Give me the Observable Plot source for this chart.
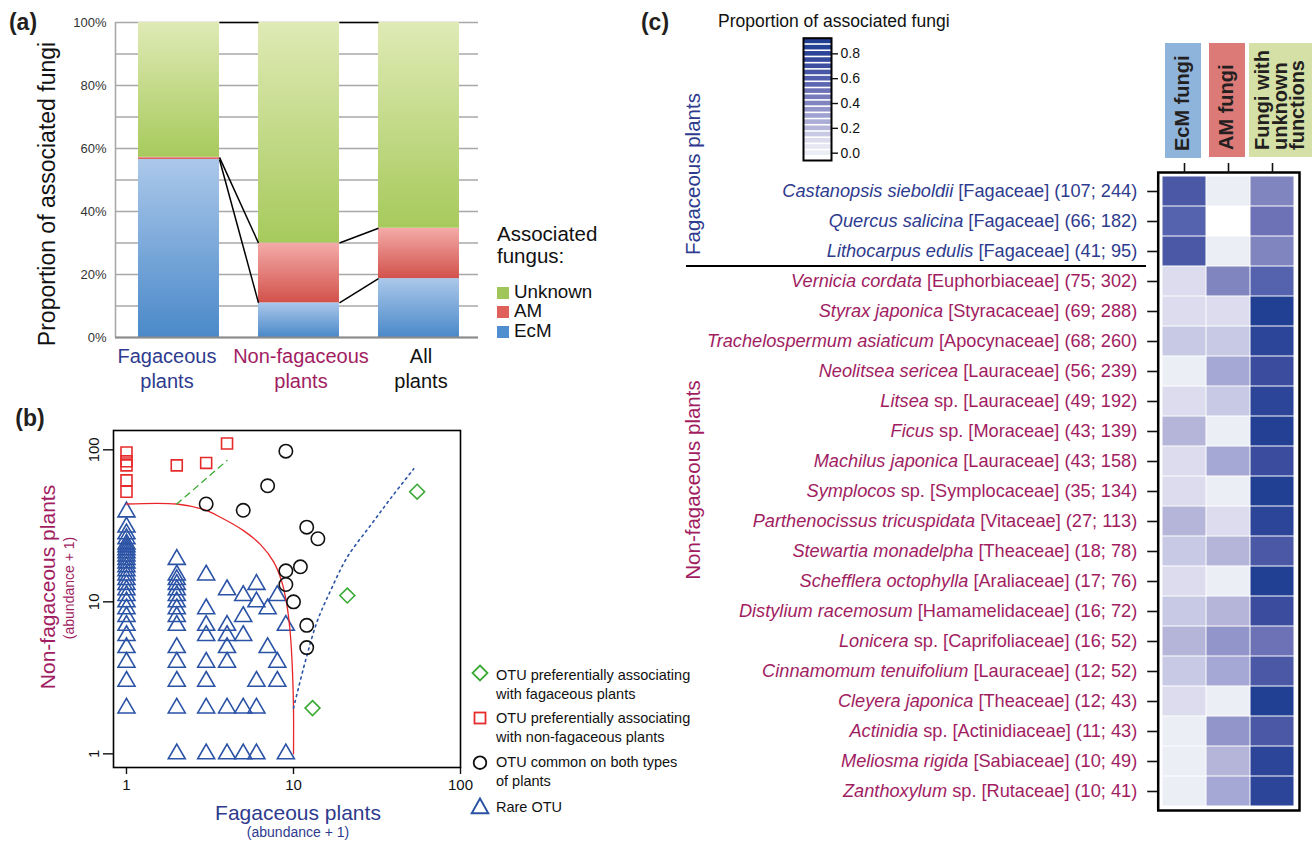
<!DOCTYPE html>
<html>
<head>
<meta charset="utf-8">
<script src="https://cdn.jsdelivr.net/npm/d3@7"></script>
<script src="https://cdn.jsdelivr.net/npm/@observablehq/plot@0.6"></script>
<style>
html,body{margin:0;padding:0;background:#fff;}
#page{position:relative;width:1316px;height:843px;overflow:hidden;font-family:"Liberation Sans",Arial,Helvetica,sans-serif;color:#111;}
.a{position:absolute;white-space:nowrap;line-height:1;}
.c{position:absolute;white-space:nowrap;line-height:1;transform:translate(-50%,-50%);}
.v{position:absolute;white-space:nowrap;line-height:1;transform:translate(-50%,-50%) rotate(-90deg);}
.panel{font-weight:bold;font-size:23px;color:#231f20;}
.hdr{position:absolute;writing-mode:vertical-rl;transform:rotate(180deg);font-weight:bold;font-size:20px;line-height:17.5px;display:flex;align-items:center;justify-content:flex-start;padding-top:7px;box-sizing:border-box;color:#231f20;white-space:nowrap;}
.sw{display:inline-block;width:12px;height:12px;margin-right:5px;vertical-align:-1px;}
.plotbox{position:absolute;}
</style>
</head>
<body>
<svg width="0" height="0" style="position:absolute">
  <defs>
    <linearGradient id="gEcM" x1="0" y1="0" x2="0" y2="1"><stop offset="0" stop-color="#abc8ea"/><stop offset="1" stop-color="#4a89c9"/></linearGradient>
    <linearGradient id="gAM" x1="0" y1="0" x2="0" y2="1"><stop offset="0" stop-color="#f4aba9"/><stop offset="1" stop-color="#d2524b"/></linearGradient>
    <linearGradient id="gUnk" x1="0" y1="0" x2="0" y2="1"><stop offset="0" stop-color="#dfeab5"/><stop offset="1" stop-color="#a7ca5c"/></linearGradient>
  </defs>
</svg>
<div id="page">
  <!-- panel letters -->
  <div class="c panel" style="left:23px;top:22px">(a)</div>
  <div class="c panel" style="left:30px;top:418px">(b)</div>
  <div class="c panel" style="left:655px;top:22px">(c)</div>

  <!-- panel a texts -->
  <div class="v" style="left:47px;top:194px;font-size:23px">Proportion of associated fungi</div>
  <div class="a" style="left:497px;top:223px;font-size:20.5px;line-height:22px">Associated<br>fungus:</div>
  <div class="a" style="left:497px;top:282px;font-size:18.8px;line-height:19.3px">
    <div><span class="sw" style="background:#a0c65a"></span>Unknown</div>
    <div><span class="sw" style="background:#e0615b"></span>AM</div>
    <div><span class="sw" style="background:#4f8fd0"></span>EcM</div>
  </div>

  <!-- panel b texts -->
  <div class="v" style="left:47px;top:587px;font-size:21px;color:#a11d62">Non-fagaceous plants</div>
  <div class="v" style="left:69px;top:588px;font-size:14px;color:#a11d62">(abundance + 1)</div>
  <div class="c" style="left:298px;top:812px;font-size:21px;color:#2e3b8e">Fagaceous plants</div>
  <div class="c" style="left:298px;top:832px;font-size:14px;color:#2e3b8e">(abundance + 1)</div>
  <div class="a" style="left:496px;top:666px;font-size:14.5px;line-height:18.5px">OTU preferentially associating<br>with fagaceous plants</div>
  <div class="a" style="left:496px;top:709px;font-size:14.5px;line-height:18.5px">OTU preferentially associating<br>with non-fagaceous plants</div>
  <div class="a" style="left:496px;top:753px;font-size:14.5px;line-height:18.5px">OTU common on both types<br>of plants</div>
  <div class="a" style="left:496px;top:798px;font-size:14.5px;line-height:18.5px">Rare OTU</div>
  <svg class="a" style="left:460px;top:650px" width="40" height="180">
    <polygon points="20,15.5 27.5,23 20,30.5 12.5,23" fill="none" stroke="#3aaa35" stroke-width="1.8"/>
    <rect x="14.5" y="62.5" width="11" height="11" fill="none" stroke="#e62b2b" stroke-width="1.8"/>
    <circle cx="20" cy="112.7" r="6.3" fill="none" stroke="#111" stroke-width="1.8"/>
    <polygon points="20,148.5 28.3,163.3 11.7,163.3" fill="none" stroke="#2a52a5" stroke-width="1.9"/>
  </svg>

  <!-- panel c texts -->
  <div class="a" style="left:718px;top:13px;font-size:17.5px">Proportion of associated fungi</div>
  <div class="v" style="left:693px;top:174px;font-size:20.5px;color:#2e3b8e">Fagaceous plants</div>
  <div class="v" style="left:693px;top:480px;font-size:20.5px;color:#a11d62">Non-fagaceous plants</div>
  <div class="a" style="left:686px;top:265px;width:460px;height:2px;background:#000"></div>
  <div class="hdr" style="left:1165px;top:43px;width:36px;height:115px;background:#8fb4dc"><span>EcM fungi</span></div>
  <div class="hdr" style="left:1209px;top:43px;width:36px;height:114px;background:#db7a76"><span>AM fungi</span></div>
  <div class="hdr" style="left:1249px;top:43px;width:63px;height:114px;background:#d5e0a6"><span>Fungi with<br>unknown<br>functions</span></div>
</div>
<script>
// ================= DATA =================
// Panel (a): stacked proportions (%)
const plantGroups = ["Fagaceous plants", "Non-fagaceous plants", "All plants"];
const groupLabelLines = ["Fagaceous\nplants", "Non-fagaceous\nplants", "All\nplants"];
const fungusTypes = ["EcM", "AM", "Unknown"];
const ecmPercent = [56.5, 11.0, 18.7];
const amPercent = [0.7, 19.0, 16.0];
const unknownPercent = [42.8, 70.0, 65.3];
const percentTicks = [0, 10, 20, 30, 40, 50, 60, 70, 80, 90, 100];

// Panel (b): OTU abundances (fagaceous + 1, non-fagaceous + 1)
const rareOTU = [
  [1,2],[1,3],[1,4],[1,5],[1,6],[1,7],[1,8],[1,9],[1,10],[1,11],[1,12],[1,13],[1,14],[1,15],[1,16],[1,17],[1,18],[1,19],[1,20],[1,21],[1,22],[1,23],[1,24],[1,26],[1,28],[1,31],[1,39],
  [2,1],[2,2],[2,3],[2,4],[2,5],[2,7],[2,8],[2,9],[2,10],[2,11],[2,12],[2,13],[2,14],[2,15],[2,19],
  [3,1],[3,2],[3,3],[3,4],[3,6],[3,7],[3,9],[3,15],
  [4,1],[4,2],[4,4],[4,5],[4,6],[4,7],[4,12],
  [5,1],[5,2],[5,6],[5,8],[5,11],
  [6,1],[6,2],[6,3],[6,10],[6,13],
  [7,5],[7,9],
  [8,3],[8,4],[8,11],
  [9,1],[9,7]
];
const commonOTU = [[3,44],[5,40],[7,58],[9,98],[12,31],[14,26],[11,17],[9,16],[9,13],[10,10],[12,7],[12,5]];
const nonFagaceousOTU = [[1,96],[1,84],[1,79],[1,63],[1,53],[2,79],[3,82],[4,110]];
const fagaceousOTU = [[55,53],[21,11],[13,2]];
const rareBoundary = [[1,44],[2,44],[2.89,40.5],[3.65,36],[5.02,29.4],[6.35,23.8],[7.59,18.4],[8.47,13.8],[9.14,9.45],[9.59,6],[9.86,3.5],[10,2],[10,1]];
const nonFagBoundary = [[2,44],[4,85]];
const fagBoundary = [[10,2],[11.8,4.1],[13.9,7.5],[16.7,11.9],[21,19.7],[28.9,31.8],[38.1,47.8],[52.5,75]];
const abundanceTicks = [1, 10, 100];

// Panel (c): heatmap
const speciesNames = ["Castanopsis sieboldii","Quercus salicina","Lithocarpus edulis","Vernicia cordata","Styrax japonica","Trachelospermum asiaticum","Neolitsea sericea","Litsea","Ficus","Machilus japonica","Symplocos","Parthenocissus tricuspidata","Stewartia monadelpha","Schefflera octophylla","Distylium racemosum","Lonicera","Cinnamomum tenuifolium","Cleyera japonica","Actinidia","Meliosma rigida","Zanthoxylum"];
const speciesInfo = ["[Fagaceae] (107; 244)","[Fagaceae] (66; 182)","[Fagaceae] (41; 95)","[Euphorbiaceae] (75; 302)","[Styracaceae] (69; 288)","[Apocynaceae] (68; 260)","[Lauraceae] (56; 239)","sp. [Lauraceae] (49; 192)","sp. [Moraceae] (43; 139)","[Lauraceae] (43; 158)","sp. [Symplocaceae] (35; 134)","[Vitaceae] (27; 113)","[Theaceae] (18; 78)","[Araliaceae] (17; 76)","[Hamamelidaceae] (16; 72)","sp. [Caprifoliaceae] (16; 52)","[Lauraceae] (12; 52)","[Theaceae] (12; 43)","sp. [Actinidiaceae] (11; 43)","[Sabiaceae] (10; 49)","sp. [Rutaceae] (10; 41)"];
const fagaceousCount = 3;
const fungalColumns = ["EcM fungi", "AM fungi", "Fungi with unknown functions"];
const ecmProportion = [0.64,0.57,0.64,0.10,0.10,0.15,0.02,0.10,0.20,0.10,0.10,0.20,0.15,0.10,0.15,0.20,0.15,0.10,0.02,0.02,0.02];
const amProportion  = [0.02,0.00,0.02,0.40,0.10,0.15,0.28,0.15,0.02,0.28,0.02,0.10,0.20,0.02,0.20,0.35,0.28,0.02,0.35,0.20,0.28];
const unknownProportion = [0.40,0.50,0.40,0.57,0.88,0.78,0.72,0.78,0.86,0.72,0.88,0.78,0.64,0.88,0.72,0.50,0.64,0.88,0.64,0.78,0.78];
const colorStops = [0, 0.02, 0.10, 0.15, 0.20, 0.28, 0.35, 0.40, 0.50, 0.57, 0.64, 0.72, 0.78, 0.88, 0.93];
const colorRange = ["#ffffff","#eceef5","#dcdcee","#c8c9e4","#b5b5da","#a5a8d4","#9295c9","#8085c0","#6d71b5","#5562ae","#4a58a6","#3b4c9e","#2d4599","#213f93","#1e3c90"];
const legendSteps = [0,0.05,0.1,0.15,0.2,0.25,0.3,0.35,0.4,0.45,0.5,0.55,0.6,0.65,0.7,0.75,0.8,0.85,0.9];
const legendTicks = [0, 0.2, 0.4, 0.6, 0.8];

// ================= RENDER =================
const page = document.getElementById("page");
const FONT = '"Liberation Sans", Arial, Helvetica, sans-serif';
const STYLE = `background:transparent;overflow:visible;max-width:none;font-family:${FONT};color:#111;`;
const BLUE_LABEL = "#2e3b8e", PINK_LABEL = "#a11d62";
function place(svg, left, top, w) {
  const d = document.createElement("div");
  d.className = "plotbox";
  d.style.left = left + "px"; d.style.top = top + "px"; d.style.width = w + "px";
  d.appendChild(svg); page.appendChild(d);
}

// ---- Panel (a)
const HW = 0.3375;
const seriesValues = [ecmPercent, amPercent, unknownPercent];
const gradientFill = {EcM: "url(#gEcM)", AM: "url(#gAM)", Unknown: "url(#gUnk)"};
const segments = [];
plantGroups.forEach((g, i) => {
  let c = 0;
  fungusTypes.forEach((t, k) => { const v = seriesValues[k][i]; segments.push({i, type: t, y1: c, y2: c + v}); c += v; });
});
const seriesTops = fungusTypes.map((t, k) => plantGroups.map((g, i) => seriesValues.slice(0, k + 1).reduce((s, a) => s + a[i], 0)));
const seriesLinks = [];
seriesTops.forEach(arr => { for (let i = 0; i < arr.length - 1; i++) seriesLinks.push({x1: i + HW, x2: i + 1 - HW, y1: arr[i], y2: arr[i + 1]}); });
const groupLabelFill = [BLUE_LABEL, PINK_LABEL, "#111"];
const groupLabelDx = [-12, 2, 2];

const plotA = Plot.plot({
  width: 480, height: 400, marginLeft: 115, marginRight: 2, marginTop: 22, marginBottom: 63,
  style: STYLE,
  x: {domain: [-0.529, 2.496], axis: null},
  y: {domain: [0, 100]},
  marks: [
    Plot.ruleY(percentTicks, {stroke: "#a8a8a8", strokeWidth: 1.6}),
    Plot.ruleX([-0.529], {stroke: "#a8a8a8", strokeWidth: 1.6}),
    Plot.axisY({ticks: percentTicks.filter(d => d % 20 === 0), tickSize: 0, tickPadding: 9, tickFormat: d => d + "%", fontSize: 13, fill: "#333", label: null}),
    ...fungusTypes.map(t => Plot.rect(segments.filter(d => d.type === t), {x1: d => d.i - HW, x2: d => d.i + HW, y1: "y1", y2: "y2", fill: gradientFill[t]})),
    Plot.ruleY([0], {stroke: "#8c8c8c", strokeWidth: 2}),
    Plot.link(seriesLinks, {x1: "x1", x2: "x2", y1: "y1", y2: "y2", stroke: "#000", strokeWidth: 1.5}),
    ...plantGroups.map((g, i) => Plot.text([i], {x: d => d, y: 0, text: () => groupLabelLines[i], fill: groupLabelFill[i], fontSize: 20, lineAnchor: "top", lineHeight: 1.25, dy: 8, dx: groupLabelDx[i]}))
  ]
});
place(plotA, 0, 0, 480);

// ---- Panel (b)
const px = d => d[0], py = d => d[1];
const plotB = Plot.plot({
  width: 470, height: 443, marginLeft: 113, marginRight: 10, marginTop: 30, marginBottom: 76,
  style: STYLE,
  x: {type: "log", domain: [0.836, 100]},
  y: {type: "log", domain: [0.813, 134]},
  marks: [
    Plot.axisX({ticks: abundanceTicks, tickSize: 7, tickPadding: 5, tickFormat: d => String(d), fontSize: 15, label: null, strokeWidth: 1.4}),
    Plot.axisY({ticks: abundanceTicks, tickSize: 10, tickFormat: () => "", label: null, strokeWidth: 1.4}),
    Plot.text(abundanceTicks, {y: d => d, text: d => String(d), frameAnchor: "left", rotate: -90, dx: -14.5, textAnchor: "middle", lineAnchor: "bottom", fontSize: 15}),
    Plot.dot(rareOTU, {x: px, y: py, symbol: "triangle", r: 6.3, stroke: "#2a52a5", strokeWidth: 1.6, fill: "none"}),
    Plot.line(rareBoundary, {x: px, y: py, curve: "catmull-rom", stroke: "#e8262a", strokeWidth: 1.3}),
    Plot.line(nonFagBoundary, {x: px, y: py, stroke: "#3aaa35", strokeWidth: 1.3, strokeDasharray: "6,5"}),
    Plot.line(fagBoundary, {x: px, y: py, curve: "catmull-rom", stroke: "#2a52a5", strokeWidth: 1.6, strokeDasharray: "2,4"}),
    Plot.dot(commonOTU, {x: px, y: py, r: 6.7, stroke: "#111", strokeWidth: 1.6, fill: "none"}),
    Plot.dot(nonFagaceousOTU, {x: px, y: py, symbol: "square", r: 6.2, stroke: "#e62b2b", strokeWidth: 1.6, fill: "none"}),
    Plot.dot(fagaceousOTU, {x: px, y: py, symbol: "diamond2", r: 6.7, stroke: "#3aaa35", strokeWidth: 1.6, fill: "none"}),
    Plot.frame({stroke: "#000", strokeWidth: 1.6})
  ]
});
place(plotB, 0, 400, 470);

// ---- Panel (c) heatmap
const rowLabels = speciesNames.map((n, i) => n + " " + speciesInfo[i]);
const proportionColumns = [ecmProportion, amProportion, unknownProportion];
const cells = [];
rowLabels.forEach((r, i) => proportionColumns.forEach((arr, k) => cells.push({row: r, col: fungalColumns[k], value: arr[i]})));
const colorScale = {type: "linear", domain: colorStops, range: colorRange, interpolate: "rgb"};

const plotC = Plot.plot({
  width: 676, height: 843, marginLeft: 521.7, marginRight: 21, marginTop: 176, marginBottom: 37,
  style: STYLE,
  x: {domain: fungalColumns, padding: 0, label: null},
  y: {domain: rowLabels, padding: 0, label: null},
  color: colorScale,
  marks: [
    Plot.cell(cells, {x: "col", y: "row", fill: "value", inset: 0.5}),
    Plot.frame({inset: -4, stroke: "#000", strokeWidth: 2.5}),
    Plot.axisY({tickSize: 10, tickFormat: () => "", dx: -4.5, strokeWidth: 1.6, label: null}),
    Plot.axisX({anchor: "top", tickSize: 10, tickFormat: () => "", dy: -4, strokeWidth: 1.6, label: null}),
    Plot.text(rowLabels.slice(0, fagaceousCount), {y: d => d, text: d => d, frameAnchor: "left", dx: -25, textAnchor: "end", fill: BLUE_LABEL, fontSize: 18.2}),
    Plot.text(rowLabels.slice(fagaceousCount), {y: d => d, text: d => d, frameAnchor: "left", dx: -25, textAnchor: "end", fill: PINK_LABEL, fontSize: 18.2})
  ]
});
// italicise the species part of each row label
const NS = "http://www.w3.org/2000/svg";
plotC.querySelectorAll("text").forEach(t => {
  const i = rowLabels.indexOf(t.textContent);
  if (i < 0) return;
  while (t.firstChild) t.removeChild(t.firstChild);
  const a = document.createElementNS(NS, "tspan");
  a.setAttribute("font-style", "italic");
  a.textContent = speciesNames[i];
  const b = document.createElementNS(NS, "tspan");
  b.textContent = " " + speciesInfo[i];
  t.appendChild(a); t.appendChild(b);
});
place(plotC, 640, 0, 676);

// ---- Colour bar legend for panel (c)
const plotL = Plot.plot({
  width: 120, height: 140, marginLeft: 43, marginRight: 49, marginTop: 7.7, marginBottom: 10,
  style: STYLE,
  x: {domain: [0, 1], axis: null},
  y: {domain: [-0.059, 0.926]},
  color: colorScale,
  marks: [
    Plot.rect(legendSteps, {x1: 0, x2: 1, y1: d => d - 0.025, y2: d => d + 0.025, fill: d => Math.max(d, 0.02), insetTop: 0.8, insetBottom: 0.8}),
    Plot.frame({stroke: "#000", strokeWidth: 2}),
    Plot.axisY({anchor: "right", ticks: legendTicks, tickSize: 6, tickPadding: 3, tickFormat: d3.format(".1f"), fontSize: 14, label: null, strokeWidth: 1.4})
  ]
});
place(plotL, 760, 30, 120);
</script>
</body>
</html>
